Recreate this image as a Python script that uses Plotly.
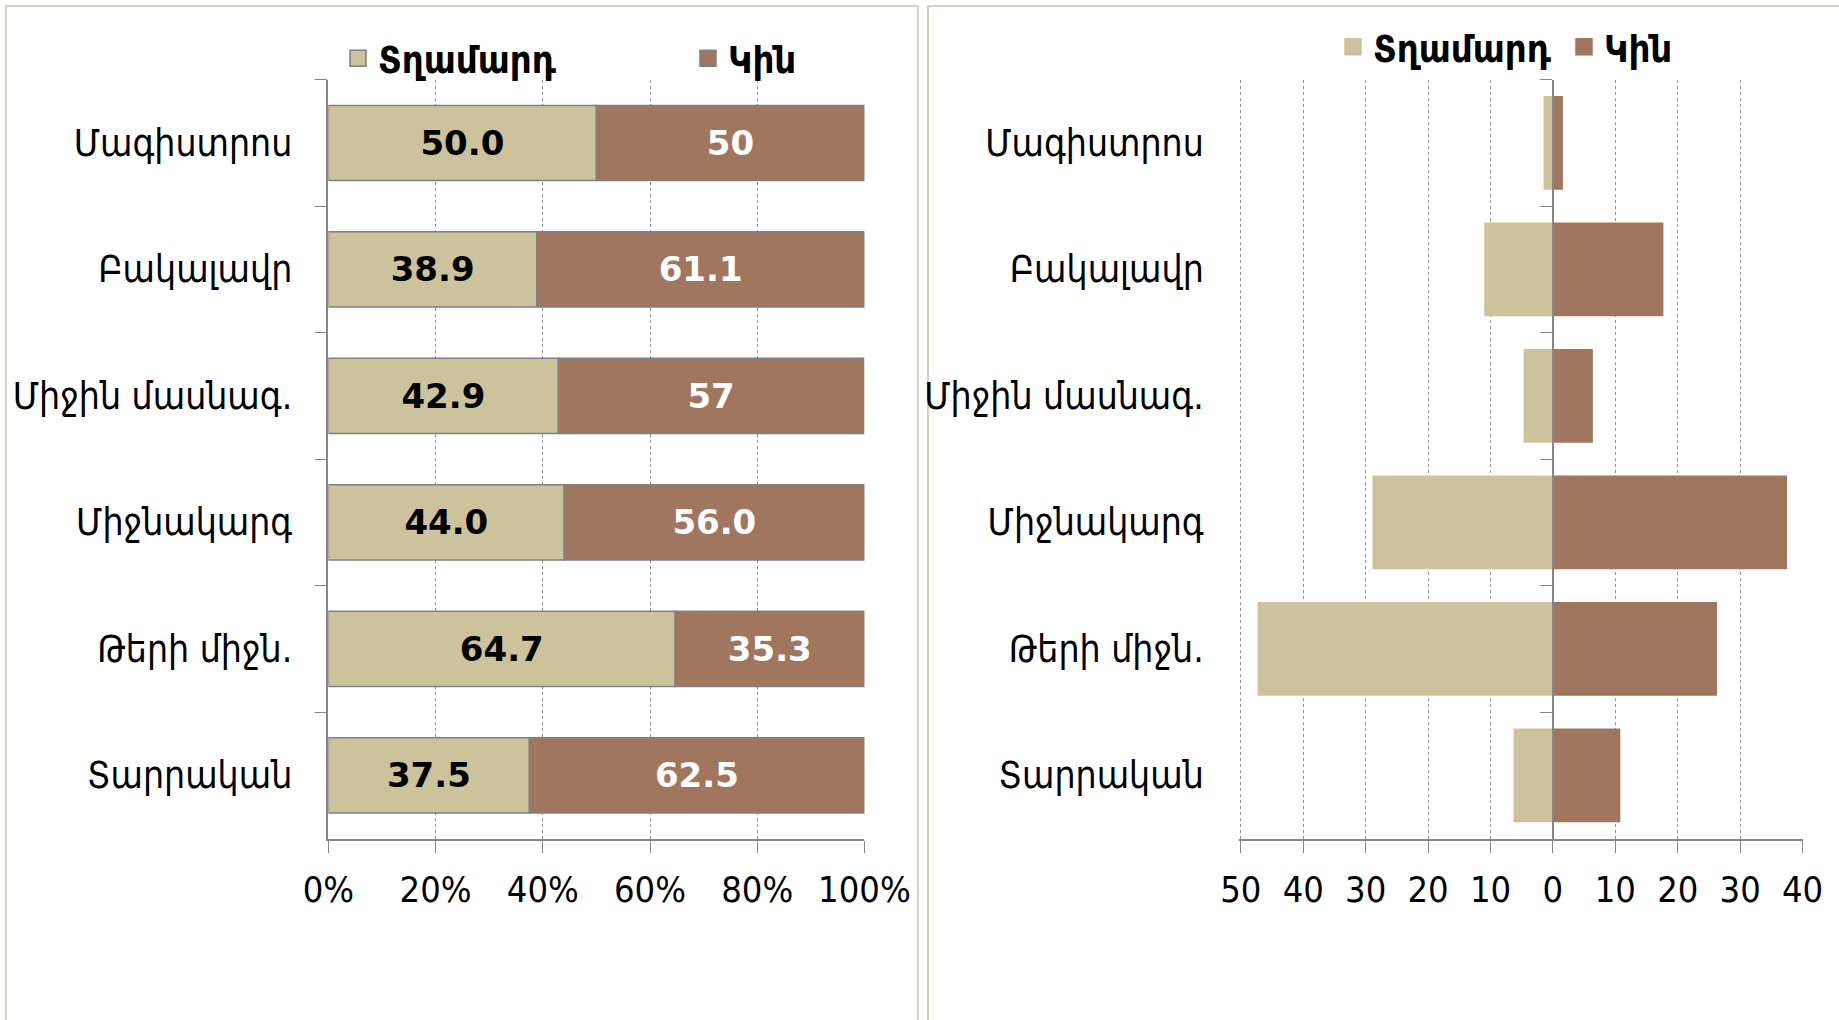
import plotly.graph_objects as go

# ---------------- data ----------------
categories = ["Մագիստրոս", "Բակալավր", "Միջին մասնագ.", "Միջնակարգ", "Թերի միջն.", "Տարրական"]
series_names = ["Տղամարդ", "Կին"]

share_male = [50.0, 38.9, 42.9, 44.0, 64.7, 37.5]
share_female = [50.0, 61.1, 57.0, 56.0, 35.3, 62.5]
share_male_text = ["50.0", "38.9", "42.9", "44.0", "64.7", "37.5"]
share_female_text = ["50", "61.1", "57", "56.0", "35.3", "62.5"]

count_male = [1.5, 11.0, 4.7, 28.9, 47.3, 6.3]
count_female = [1.6, 17.7, 6.4, 37.5, 26.3, 10.8]

pct_ticks = [0, 20, 40, 60, 80, 100]
pct_tick_labels = ["0%", "20%", "40%", "60%", "80%", "100%"]
count_ticks = [-50, -40, -30, -20, -10, 0, 10, 20, 30, 40]
count_tick_labels = ["50", "40", "30", "20", "10", "0", "10", "20", "30", "40"]

# ---------------- style ----------------
W, H = 1839, 1020
BEIGE = "#CCC39C"
BROWN = "#A0765E"
AXIS = "#868686"
GRID = "#8F8F8F"
BORDER = "#D8D1C4"
NARROW = "Liberation Sans Narrow, DejaVu Sans Condensed, DejaVu Sans"
ARM = "DejaVu Sans Condensed, DejaVu Sans"
BOLD = "DejaVu Sans"

def px_x(v):
    return v / W

def px_y(v):
    return 1 - v / H

left_dom = [px_x(328.4), px_x(864.4)]
right_range = [-50.25, 40]
# -50 sits at 1240.8 px, 40 at 1802.6 px; a small pad keeps the -50 gridline visible
ppu = (1802.6 - 1240.8) / 90.0
right_dom = [px_x(1240.8 - (-50 - right_range[0]) * ppu), px_x(1802.6)]
y_dom = [px_y(838.6), px_y(79.7)]
zero_pos = right_dom[0] + (0 - right_range[0]) / (right_range[1] - right_range[0]) * (right_dom[1] - right_dom[0])

fig = go.Figure()

# left: 100% stacked shares
fig.add_trace(go.Bar(
    y=categories, x=share_male, orientation="h", name=series_names[0], showlegend=False,
    width=0.594, marker=dict(color=BEIGE, line=dict(color="#808080", width=1.5)),
    text=share_male_text, textposition="inside", insidetextanchor="middle",
    textangle=0, constraintext="none",
    textfont=dict(family=BOLD, size=34, color="black", weight="bold"),
    xaxis="x", yaxis="y", hoverinfo="skip",
))
fig.add_trace(go.Bar(
    y=categories, x=share_female, orientation="h", name=series_names[1], showlegend=False,
    width=0.594, marker=dict(color=BROWN, line=dict(color="#808080", width=1.5)),
    text=share_female_text, textposition="inside", insidetextanchor="middle",
    textangle=0, constraintext="none",
    textfont=dict(family=BOLD, size=34, color="white", weight="bold"),
    xaxis="x", yaxis="y", hoverinfo="skip",
))

# right: butterfly of counts
fig.add_trace(go.Bar(
    y=categories, x=[-v for v in count_male], orientation="h", name=series_names[0], showlegend=False,
    width=0.742, marker=dict(color=BEIGE, line=dict(width=0)),
    xaxis="x2", yaxis="y2", hoverinfo="skip",
))
fig.add_trace(go.Bar(
    y=categories, x=count_female, orientation="h", name=series_names[1], showlegend=False,
    width=0.742, marker=dict(color=BROWN, line=dict(width=0)),
    xaxis="x2", yaxis="y2", hoverinfo="skip",
))

# legend entries (larger square swatches)
for name, col, outline, ax, ay, lg in [
    (series_names[0], BEIGE, "#808080", "x", "y", "legend"),
    (series_names[1], BROWN, "#808080", "x", "y", "legend"),
    (series_names[0], BEIGE, BEIGE, "x2", "y2", "legend2"),
    (series_names[1], BROWN, BROWN, "x2", "y2", "legend2"),
]:
    fig.add_trace(go.Scatter(
        x=[None], y=[None], mode="markers", name=name,
        marker=dict(symbol="square", size=16, color=col, line=dict(color=outline, width=1.5)),
        xaxis=ax, yaxis=ay, legend=lg, hoverinfo="skip",
    ))

common_x = dict(
    showgrid=True, gridcolor=GRID, griddash="dot", gridwidth=1,
    showline=True, linecolor=AXIS, linewidth=2,
    ticks="outside", ticklen=12, tickcolor=AXIS, tickwidth=1,
    tickfont=dict(family=NARROW, size=36, color="black"),
    zeroline=False, automargin=False, ticklabelstandoff=6,
)
common_y = dict(
    type="category", autorange="reversed", categoryorder="array", categoryarray=categories,
    showgrid=False, showline=True, linecolor=AXIS, linewidth=1.5,
    ticks="outside", tickson="boundaries", ticklen=12, tickcolor=AXIS, tickwidth=1,
    tickfont=dict(family=ARM, size=37, color="black"),
    zeroline=False, automargin=False,
)

fig.update_layout(
    width=W, height=H,
    margin=dict(l=0, r=0, t=0, b=0),
    paper_bgcolor="white", plot_bgcolor="rgba(0,0,0,0)",
    barmode="relative",
    xaxis=dict(domain=left_dom, range=[0, 100], tickvals=pct_ticks, ticktext=pct_tick_labels,
               anchor="y", **common_x),
    yaxis=dict(domain=y_dom, anchor="x", ticklabelstandoff=27, **common_y),
    xaxis2=dict(domain=right_dom, range=right_range, tickvals=count_ticks, ticktext=count_tick_labels,
                anchor="y2", **common_x),
    yaxis2=dict(domain=y_dom, anchor="free", position=zero_pos, ticklabelstandoff=341, **common_y),
    legend=dict(orientation="h", x=px_x(338), y=px_y(58.6), xanchor="left", yanchor="middle",
                entrywidth=305, bgcolor="rgba(0,0,0,0)", itemsizing="trace",
                font=dict(family=ARM, size=38, color="black", weight="bold")),
    legend2=dict(orientation="h", x=px_x(1333), y=px_y(47), xanchor="left", yanchor="middle",
                 entrywidth=186, bgcolor="rgba(0,0,0,0)", itemsizing="trace",
                 font=dict(family=ARM, size=38, color="black", weight="bold")),
    shapes=[
        dict(type="rect", xref="paper", yref="paper", x0=px_x(6), x1=px_x(918), y0=-0.05, y1=px_y(6),
             line=dict(color=BORDER, width=2), fillcolor="rgba(0,0,0,0)", layer="below"),
        dict(type="rect", xref="paper", yref="paper", x0=px_x(928), x1=1.05, y0=-0.05, y1=px_y(6),
             line=dict(color=BORDER, width=2), fillcolor="rgba(0,0,0,0)", layer="below"),
    ],
)

fig.write_html("out.html", config={"displayModeBar": False},
               post_script="document.body.style.margin='0';document.body.style.overflow='hidden';")
